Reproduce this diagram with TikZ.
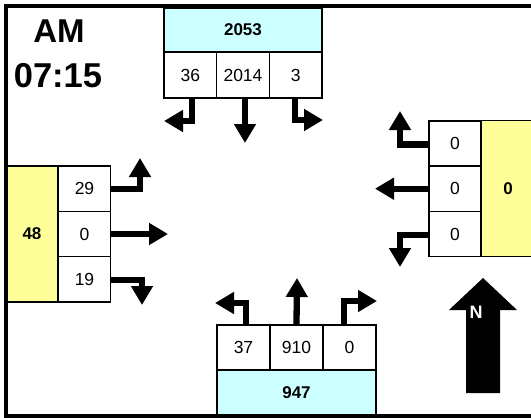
\documentclass[tikz,border=0pt]{standalone}
\usepackage{fontspec}
\setmainfont{Liberation Sans}
\usetikzlibrary{arrows.meta}
\definecolor{cyanbox}{HTML}{CCFFFF}
\definecolor{yellowbox}{HTML}{FFFF99}
\begin{document}
\begin{tikzpicture}[x=1pt,y=-1pt,
  cell/.style={draw=black,line width=1.5pt,inner sep=0pt,fill=white,
    font=\fontsize{17.5}{20}\selectfont},
  hcell/.style={cell,minimum width=52.7pt,minimum height=46pt},
  vcell/.style={cell,minimum width=52pt,minimum height=45.3pt},
  totcyan/.style={cell,fill=cyanbox,font=\fontsize{17}{20}\selectfont\bfseries},
  totyellow/.style={cell,fill=yellowbox,font=\fontsize{17}{20}\selectfont\bfseries},
  turn/.style={line width=6.3pt,line join=miter,-{Triangle[width=21pt,length=19pt]}},
  bigtext/.style={font=\fontsize{33}{36}\selectfont\bfseries,inner sep=0pt}]
\useasboundingbox (0,0) rectangle (531,418);
\fill[white] (0,0) rectangle (531,418);
% North approach
\node[totcyan,minimum width=158pt,minimum height=44pt] (ntot) at (243,30) {2053};
\node[hcell] (n1) at (190.3,75) {36};
\node[hcell] (n2) at (243,75) {2014};
\node[hcell] (n3) at (295.7,75) {3};
% West approach
\node[totyellow,minimum width=52pt,minimum height=136pt] (wtot) at (32,234) {48};
\node[vcell] (w1) at (84.5,188.7) {29};
\node[vcell] (w2) at (84.5,234) {0};
\node[vcell] (w3) at (84.5,279.3) {19};
% East approach
\node[vcell] (e1) at (455,143.4) {0};
\node[vcell] (e2) at (455,188.7) {0};
\node[vcell] (e3) at (455,234) {0};
\node[totyellow,minimum width=54pt,minimum height=136pt] (etot) at (508,188.7) {0};
% South approach
\node[hcell,minimum width=53pt,minimum height=45pt] (s1) at (243.5,347.5) {37};
\node[hcell,minimum width=53pt,minimum height=45pt] (s2) at (296.5,347.5) {910};
\node[hcell,minimum width=53pt,minimum height=45pt] (s3) at (349.5,347.5) {0};
\node[totcyan,minimum width=159pt,minimum height=46pt] (stot) at (296.5,393) {947};
% turn arrows north
\coordinate (nlt) at (164,121);
\coordinate (nrt) at (323,120);
\coordinate (nth) at (245,143);
\draw[turn] ([xshift=2pt]n1.south) |- (nlt);
\draw[turn] ([xshift=2pt]n2.south) -- (nth);
\draw[turn] ([xshift=-1pt]n3.south) |- (nrt);
% west
\coordinate (wlt) at (140,158);
\coordinate (wth) at (168,234);
\coordinate (wrt) at (142,305);
\draw[turn] (w1.east) -| (wlt);
\draw[turn] (w2.east) -- (wth);
\draw[turn] ([yshift=-1pt]w3.east) -| (wrt);
% east
\coordinate (elt) at (400,111);
\coordinate (eth) at (375,188.7);
\coordinate (ert) at (400,267);
\draw[turn] ([yshift=-1pt]e1.west) -| (elt);
\draw[turn] (e2.west) -- (eth);
\draw[turn] ([yshift=-1pt]e3.west) -| (ert);
% south
\coordinate (slt) at (215,303);
\coordinate (sth) at (297,278);
\coordinate (srt) at (377,301);
\draw[turn] ([xshift=2.5pt]s1.north) |- (slt);
\draw[turn] (s2.north) -- (sth);
\draw[turn] ([xshift=-5.5pt]s3.north) |- (srt);
% north arrow
\fill[black] (466,393) -- (466,310) -- (449,310) -- (483,278) -- (517,310) -- (500,310) -- (500,393) -- cycle;
\node[text=white,font=\fontsize{18}{20}\selectfont\bfseries,inner sep=0pt] (nlabel) at (476,312) {N};
% time label
\node[bigtext] (am) at (59,31) {AM};
\node[bigtext,font=\fontsize{34.5}{36}\selectfont\bfseries] (time) at (58,76) {07:15};
% frame
\draw[line width=4pt,line join=miter] (531,6) -- (5.5,6) -- (5.5,416) -- (531,416);
\end{tikzpicture}
\end{document}
